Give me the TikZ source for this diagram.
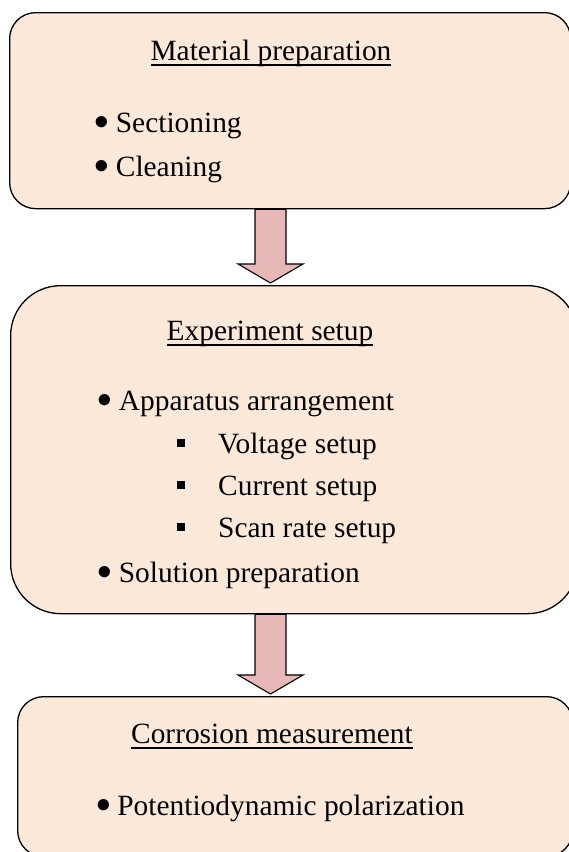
\documentclass[tikz,border=0pt]{standalone}
\usepackage{fix-cm}
\usepackage{fontspec}
\setmainfont{Liberation Serif}
\usetikzlibrary{calc}
\definecolor{boxfill}{HTML}{FDE9D9}
\definecolor{arrowfill}{HTML}{E6B9B8}
\newcommand{\headline}[1]{\setbox0\hbox{#1}\rlap{\rule[-5.5bp]{\wd0}{1.3bp}}\box0}
\newcommand{\dotitem}{\raisebox{2.5bp}{$\bullet$}\hspace{6.5bp}}
\newcommand{\sqitem}{\raisebox{6bp}{\rule{8bp}{8bp}}\hspace{33bp}}

\begin{document}
\begin{tikzpicture}[x=1bp, y=-1bp,
	box/.style={draw=black, line width=1.3bp, fill=boxfill, rounded corners=26bp, inner sep=0pt, anchor=north west},
	txt/.style={anchor=base west, inner sep=0pt, font=\fontsize{29.4bp}{35bp}\selectfont},
	title/.style={txt, anchor=base},
	arrowbody/.style={draw=black, line width=1.1bp, fill=arrowfill, line join=miter}]
				\useasboundingbox (0,0) rectangle (569,852);
				\clip (0,0) rectangle (569,852);
				
				\node[box, minimum width=561bp, minimum height=196bp] (prep) at (9,12){};
				\node[box, minimum width=567bp, minimum height=328bp, rounded corners=50bp] (setup) at (10,285){};
				\node[box, minimum width=555bp, minimum height=160bp] (meas) at (17,696){};
				\coordinate (axis) at (270.5,0);
				
				\foreach \a/\b in {prep/setup, setup/meas}
					\draw[arrowbody] ($(\a.south -| axis)+(-15.5,0)$) -- ($(\b.north -| axis)+(-15.5,-21)$) -- ++(-17,0) -- ($(\b.north -| axis)+(0,-2)$) -- ($(\b.north -| axis)+(32.5,-21)$) -- ++(-17,0) -- ($(\a.south -| axis)+(15.5,0)$) -- cycle;
				
				\node[title] (preptitle) at (271,60){\headline{Material preparation}};
				\node[txt] (sect) at (94.5,132){\dotitem Sectioning};
				\node[txt] (clean) at (94.5,176){\dotitem Cleaning};
				
				\node[title] (setuptitle) at (270,340){\headline{Experiment setup}};
				\node[txt] (appar) at (97.5,410){\dotitem Apparatus arrangement};
				\node[txt] (volt) at (177,453){\sqitem Voltage setup};
				\node[txt] (curr) at (177,495){\sqitem Current setup};
				\node[txt] (scan) at (177,537){\sqitem Scan rate setup};
				\node[txt] (sol) at (97.5,582){\dotitem Solution preparation};
				
				\node[title] (meastitle) at (272,743){\headline{Corrosion measurement}};
				\node[txt] (poten) at (96,815){\dotitem Potentiodynamic polarization};
				\end{tikzpicture}
\end{document}
